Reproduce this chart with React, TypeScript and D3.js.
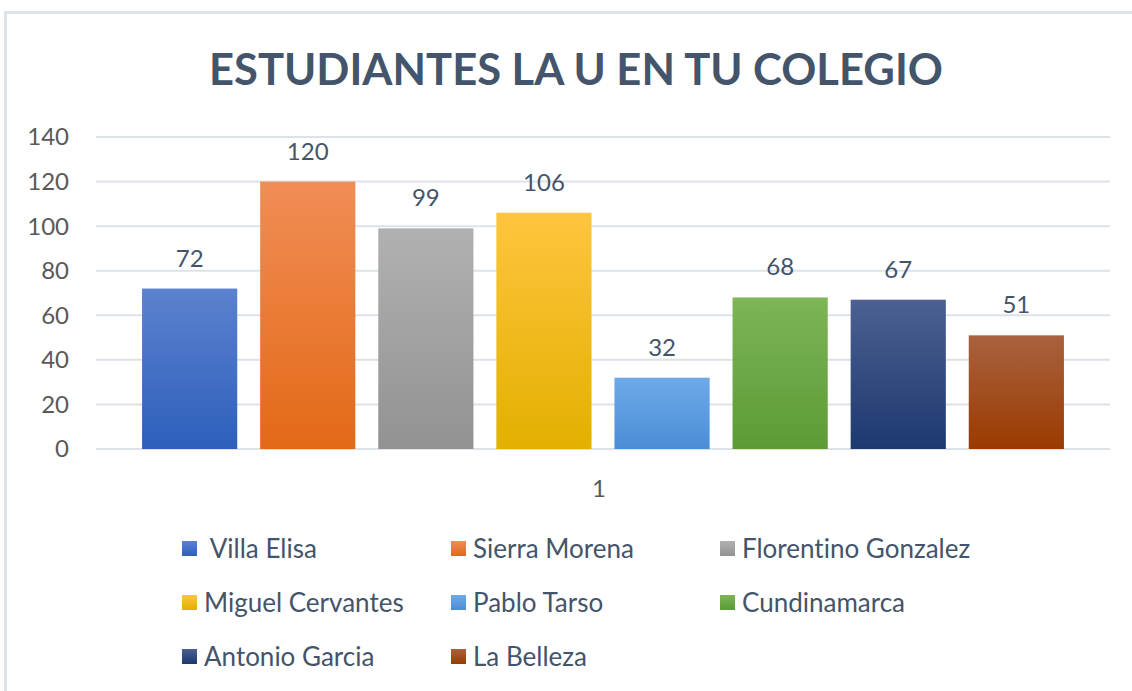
import React from 'react';
import * as d3 from 'd3';

const schools = [
  'Villa Elisa',
  'Sierra Morena',
  'Florentino Gonzalez',
  'Miguel Cervantes',
  'Pablo Tarso',
  'Cundinamarca',
  'Antonio Garcia',
  'La Belleza',
];
const students = [72, 120, 99, 106, 32, 68, 67, 51];
const yTicks = [0, 20, 40, 60, 80, 100, 120, 140];
const categoryLabel = '1';
const colorsTop = ['#5b82cf', '#f18d56', '#b1b1b1', '#ffc53e', '#6eaae9', '#7eb556', '#4c6092', '#a9623f'];
const colorsBottom = ['#2e5fbb', '#e36916', '#929292', '#e2b000', '#4a8dd6', '#5b9b35', '#1d396f', '#9a3a00'];

const W = 1132;
const H = 691;
const font = 'Lato, "Open Sans", sans-serif';

export default function App() {
  const margin = { top: 137, right: 22, bottom: 242, left: 96 };
  const innerW = W - margin.left - margin.right;
  const innerH = H - margin.top - margin.bottom;

  const x = d3.scaleBand<string>()
    .domain(schools)
    .range([0, innerW])
    .paddingInner(0.194)
    .paddingOuter(0.39);
  const y = d3.scaleLinear().domain([0, 140]).range([innerH, 0]);

  const legendCols = [182, 451, 720];
  const legendRows = [549, 603, 657];

  return (
    <svg width={W} height={H} style={{ position: 'absolute', left: 0, top: 0, fontVariantLigatures: 'none' }}>
      <defs>
        {schools.map((s, i) => (
          <linearGradient key={s} id={`g${i}`} x1="0" y1="0" x2="0" y2="1">
            <stop offset="0%" stopColor={colorsTop[i]} />
            <stop offset="100%" stopColor={colorsBottom[i]} />
          </linearGradient>
        ))}
      </defs>
      <rect x={0} y={0} width={W} height={H} fill="#fff" />
      <rect x={5.5} y={12.5} width={1140} height={700} fill="none" stroke="#dfe4eb" strokeWidth={3} />

      <text x={576} y={85} textAnchor="middle" fontFamily={font} fontWeight={700}
        fontSize={43.5} fill="#44546a">
        ESTUDIANTES LA U EN TU COLEGIO
      </text>

      <g transform={`translate(${margin.left},${margin.top})`}>
        {yTicks.map(t => (
          <g key={t}>
            <line x1={0} x2={innerW} y1={y(t)} y2={y(t)} stroke="#dde2e9" strokeWidth={2} />
            <text x={-27} y={y(t)} dy="0.35em" textAnchor="end" fontFamily={font}
              fontSize={24} fill="#595959">{t}</text>
          </g>
        ))}
        {schools.map((s, i) => (
          <g key={s}>
            <rect x={x(s)} y={y(students[i])} width={x.bandwidth()}
              height={innerH - y(students[i])} fill={`url(#g${i})`} />
            <text x={(x(s) ?? 0) + x.bandwidth() / 2} y={y(students[i]) - 22}
              textAnchor="middle" fontFamily={font} fontSize={24} fill="#44546a">
              {students[i]}
            </text>
          </g>
        ))}
        <text x={innerW / 2 - 4} y={innerH + 48} textAnchor="middle" fontFamily={font}
          fontSize={24} fill="#595959">{categoryLabel}</text>
      </g>

      {schools.map((s, i) => {
        const cx = legendCols[i % 3];
        const cy = legendRows[Math.floor(i / 3)];
        return (
          <g key={s}>
            <rect x={cx} y={cy - 8} width={15} height={15} fill={`url(#g${i})`} />
            <text x={cx + 22} y={cy} dy="0.35em" fontFamily={font} fontSize={26} fill="#44546a">
              {i === 0 ? '\u00a0' + s : s}
            </text>
          </g>
        );
      })}
    </svg>
  );
}
